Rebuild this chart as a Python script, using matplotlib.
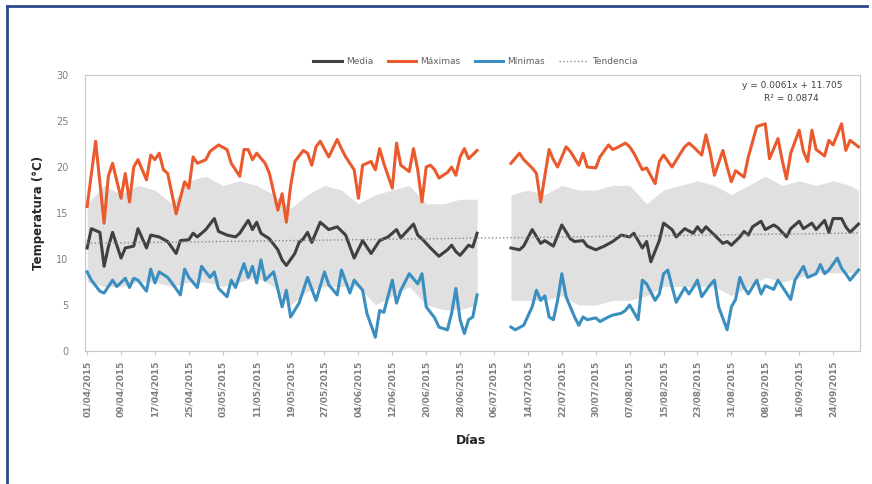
import datetime as dt
import matplotlib
matplotlib.use("Agg")
import matplotlib.pyplot as plt
import numpy as np

# dias contados desde 01/04/2015
inicio = dt.date(2015, 4, 1)
n_dias = 183

max_dias_1 = [0, 2, 4, 5, 6, 8, 9, 10, 11, 12, 14, 15, 16, 17, 18, 19, 21, 23, 24, 25, 26, 28, 29, 31, 33,
              34, 36, 37, 38, 39, 40, 42, 43, 45, 46, 47, 48, 49, 51, 52, 53, 54, 55, 57, 59, 60, 61, 63,
              64, 65, 67, 68, 69, 70, 72, 73, 74, 76, 77, 78, 79, 80, 81, 82, 83, 85, 86, 87, 88, 89, 90, 92]
max_vals_1 = [15.7, 22.8, 13.9, 19.0, 20.4, 16.6, 19.3, 16.2, 20.0, 20.8, 18.6, 21.3, 20.8, 21.5, 19.7, 19.3,
              14.9, 18.4, 17.7, 21.1, 20.4, 20.8, 21.7, 22.4, 21.9, 20.4, 19.0, 21.9, 21.9, 20.8, 21.5, 20.4,
              19.3, 15.3, 17.1, 14.0, 17.9, 20.6, 21.8, 21.5, 20.2, 22.2, 22.8, 21.1, 23.0, 22.0, 21.1, 19.7,
              16.6, 20.2, 20.6, 19.7, 22.0, 20.4, 17.7, 22.6, 20.2, 19.5, 22.0, 19.7, 16.2, 20.0, 20.2, 19.7,
              18.8, 19.4, 20.0, 19.1, 21.1, 22.0, 20.9, 21.8]
max_dias_2 = [100, 102, 103, 105, 106, 107, 109, 110, 111, 113, 114, 116, 117, 118, 120, 121, 123, 124, 125,
              127, 128, 129, 131, 132, 134, 135, 136, 138, 140, 141, 142, 143, 145, 146, 147, 148, 150, 151,
              152, 153, 155, 156, 158, 160, 161, 163, 164, 165, 166, 168, 169, 170, 171, 172, 174, 175, 176,
              178, 179, 180, 182]
max_vals_2 = [20.4, 21.5, 20.8, 19.9, 19.3, 16.2, 21.9, 20.8, 20.0, 22.2, 21.7, 20.2, 21.5, 20.0, 19.9, 21.1,
              22.4, 21.9, 22.1, 22.6, 22.2, 21.5, 19.7, 19.9, 18.2, 20.6, 21.3, 20.0, 21.5, 22.2, 22.6, 22.2,
              21.3, 23.5, 21.6, 19.1, 21.8, 20.0, 18.4, 19.6, 18.9, 21.1, 24.4, 24.7, 20.9, 23.1, 20.7, 18.7,
              21.5, 24.0, 21.7, 20.6, 24.0, 21.9, 21.2, 22.9, 22.4, 24.7, 21.8, 22.9, 22.2]

med_dias_1 = [0, 1, 3, 4, 5, 6, 8, 9, 11, 12, 14, 15, 17, 19, 21, 22, 24, 25, 26, 28, 30, 31, 33, 35, 36, 38,
              39, 40, 41, 43, 45, 46, 47, 49, 50, 51, 52, 53, 55, 57, 59, 61, 63, 65, 67, 69, 71, 73, 74, 77,
              78, 79, 81, 83, 85, 86, 87, 88, 90, 91, 92]
med_vals_1 = [11.2, 13.3, 12.9, 9.2, 11.3, 12.9, 10.1, 11.2, 11.4, 13.3, 11.2, 12.6, 12.4, 11.9, 10.6, 12.0,
              12.1, 12.8, 12.4, 13.2, 14.4, 13.0, 12.6, 12.4, 12.8, 14.2, 13.2, 14.0, 12.8, 12.2, 11.0, 9.9,
              9.3, 10.6, 11.8, 12.2, 12.9, 11.8, 14.0, 13.2, 13.5, 12.6, 10.1, 12.0, 10.6, 12.0, 12.4, 13.2,
              12.3, 13.8, 12.6, 12.2, 11.2, 10.3, 11.0, 11.5, 10.8, 10.4, 11.5, 11.3, 12.8]
med_dias_2 = [100, 102, 103, 105, 107, 108, 110, 112, 114, 115, 117, 118, 120, 122, 124, 126, 128, 129, 131,
              132, 133, 135, 136, 138, 139, 141, 143, 144, 145, 146, 148, 150, 151, 152, 154, 155, 156, 157,
              159, 160, 162, 163, 165, 166, 168, 169, 171, 172, 174, 175, 176, 178, 179, 180, 182]
med_vals_2 = [11.2, 11.0, 11.4, 13.2, 11.7, 12.0, 11.4, 13.7, 12.2, 11.9, 12.0, 11.4, 11.0, 11.4, 11.9, 12.6,
              12.4, 12.8, 11.2, 11.9, 9.7, 12.0, 13.9, 13.2, 12.4, 13.3, 12.8, 13.5, 12.9, 13.5, 12.6, 11.7,
              11.9, 11.5, 12.4, 13.0, 12.6, 13.5, 14.1, 13.2, 13.7, 13.4, 12.4, 13.3, 14.1, 13.3, 13.9, 13.2,
              14.2, 12.9, 14.4, 14.4, 13.5, 12.9, 13.8]

min_dias_1 = [0, 1, 3, 4, 6, 7, 9, 10, 11, 12, 14, 15, 16, 17, 19, 20, 22, 23, 24, 26, 27, 29, 30, 31, 33, 34,
              35, 37, 38, 39, 40, 41, 42, 44, 46, 47, 48, 50, 51, 52, 54, 56, 57, 59, 60, 62, 63, 65, 66, 68,
              69, 70, 72, 73, 74, 76, 78, 79, 80, 82, 83, 85, 86, 87, 88, 89, 90, 91, 92]
min_vals_1 = [8.6, 7.7, 6.5, 6.3, 7.7, 7.0, 7.9, 6.9, 7.9, 7.7, 6.5, 8.9, 7.4, 8.6, 8.0, 7.4, 6.1, 8.9, 8.0,
              6.9, 9.2, 8.0, 8.6, 6.8, 5.9, 7.7, 6.9, 9.5, 8.0, 9.2, 7.4, 9.9, 7.7, 8.6, 4.8, 6.6, 3.7, 5.2,
              6.6, 8.0, 5.5, 8.6, 7.2, 6.1, 8.8, 6.3, 7.7, 6.6, 4.1, 1.5, 4.4, 4.2, 7.7, 5.2, 6.6, 8.4, 7.3,
              8.4, 4.8, 3.6, 2.6, 2.3, 4.1, 6.8, 3.4, 1.9, 3.4, 3.7, 6.1]
min_dias_2 = [100, 101, 103, 105, 106, 107, 108, 109, 110, 111, 112, 113, 115, 116, 117, 118, 120, 121, 123,
              124, 126, 127, 128, 130, 131, 132, 134, 135, 136, 137, 138, 139, 141, 142, 143, 144, 145, 147,
              148, 149, 151, 152, 153, 154, 155, 156, 158, 159, 160, 162, 163, 164, 166, 167, 169, 170, 172,
              173, 174, 175, 177, 178, 179, 180, 182]
min_vals_2 = [2.6, 2.3, 2.8, 4.8, 6.6, 5.5, 6.0, 3.7, 3.4, 5.5, 8.4, 5.9, 3.7, 2.8, 3.7, 3.4, 3.6, 3.2, 3.7,
              3.9, 4.1, 4.4, 5.0, 3.4, 7.7, 7.3, 5.5, 6.2, 8.4, 8.8, 7.0, 5.3, 6.9, 6.2, 6.9, 7.7, 5.9, 7.2,
              7.7, 4.8, 2.3, 4.8, 5.6, 8.0, 6.9, 6.2, 7.7, 6.2, 7.1, 6.7, 7.7, 7.0, 5.6, 7.7, 9.2, 8.0, 8.4,
              9.4, 8.4, 8.8, 10.1, 9.0, 8.4, 7.7, 8.8]

# banda gris (rango de los registros horarios)
banda_dias_1 = [0, 4, 8, 12, 16, 20, 24, 28, 32, 36, 40, 44, 48, 52, 56, 60, 64, 68, 72, 76, 80, 84, 88, 92]
banda_inf_1 = [7.5, 7.0, 7.0, 7.5, 7.5, 7.0, 7.5, 7.5, 7.0, 7.5, 8.0, 7.0, 5.0, 6.5, 7.0, 7.0, 7.0, 5.0, 6.0,
               7.0, 5.0, 4.5, 4.5, 5.0]
banda_sup_1 = [16.0, 18.0, 17.0, 18.0, 17.5, 16.0, 18.5, 19.0, 18.0, 18.5, 18.0, 17.0, 15.5, 17.0, 18.0, 17.5,
               16.0, 17.0, 17.5, 18.0, 16.0, 16.0, 16.5, 16.5]
banda_dias_2 = [100, 104, 108, 112, 116, 120, 124, 128, 132, 136, 140, 144, 148, 152, 156, 160, 164, 168, 172,
                176, 180, 182]
banda_inf_2 = [5.5, 5.5, 5.5, 6.0, 5.0, 5.0, 5.5, 5.5, 6.0, 7.0, 7.0, 7.0, 7.0, 6.0, 7.0, 8.0, 7.5, 8.0, 8.5,
               8.5, 8.5, 8.5]
banda_sup_2 = [17.0, 17.5, 17.0, 18.0, 17.5, 17.5, 18.0, 18.0, 16.0, 17.5, 18.0, 18.5, 18.0, 17.0, 18.0, 19.0,
               18.0, 18.5, 18.0, 18.5, 18.0, 17.5]

pendiente = 0.0061
ordenada = 11.705
r2 = 0.0874

c_media = "#404040"
c_max = "#ea5a2c"
c_min = "#3a8fc0"

fig = plt.figure(figsize=(8.72, 4.84), dpi=100)
ax = fig.add_axes([0.0975, 0.2748, 0.8885, 0.5702])

for d, lo, hi in [(banda_dias_1, banda_inf_1, banda_sup_1), (banda_dias_2, banda_inf_2, banda_sup_2)]:
    ax.fill_between(d, lo, hi, color="#e0e0e0", lw=0, zorder=1)

xt = np.array([0, n_dias - 1])
ax.plot(xt, pendiente * (xt + 1) + ordenada, ls=":", color="#8a8a8a", lw=1.0, zorder=5, label="Tendencia")

ax.plot(med_dias_1, med_vals_1, color=c_media, lw=2.2, zorder=3, label="Media", solid_joinstyle="round")
ax.plot(med_dias_2, med_vals_2, color=c_media, lw=2.2, zorder=3, solid_joinstyle="round")
ax.plot(max_dias_1, max_vals_1, color=c_max, lw=2.2, zorder=3, label="Máximas", solid_joinstyle="round")
ax.plot(max_dias_2, max_vals_2, color=c_max, lw=2.2, zorder=3, solid_joinstyle="round")
ax.plot(min_dias_1, min_vals_1, color=c_min, lw=2.2, zorder=3, label="Mínimas", solid_joinstyle="round")
ax.plot(min_dias_2, min_vals_2, color=c_min, lw=2.2, zorder=3, solid_joinstyle="round")

ax.set_xlim(-0.5, 182.3)
ax.set_ylim(0, 30)
ax.set_yticks(range(0, 31, 5))
ticks = list(range(0, n_dias, 8))
ax.set_xticks(ticks)
ax.set_xticklabels([(inicio + dt.timedelta(days=t)).strftime("%d/%m/%Y") for t in ticks],
                   rotation=90, fontsize=6.5, color="#7f7f7f", fontweight="bold")
ax.tick_params(axis="y", length=0, labelsize=7, labelcolor="#7f7f7f", pad=12)
ax.tick_params(axis="x", length=3, color="#c8c8c8", pad=4)
for s in ax.spines.values():
    s.set_color("#c8c8c8")
    s.set_linewidth(0.8)

ax.set_ylabel("Temperatura (°C)", fontsize=8.5, fontweight="bold", color="#262626", labelpad=8)
fig.text(0.54, 0.082, "Días", fontsize=9, fontweight="bold", color="#262626", ha="center")

h, l = ax.get_legend_handles_labels()
orden = [1, 2, 3, 0]
fig.legend([h[i] for i in orden], [l[i] for i in orden], loc="center", bbox_to_anchor=(0.545, 0.872),
           ncol=4, frameon=False, fontsize=6.5, labelcolor="#606060", handlelength=3.2, columnspacing=1.6,
           handletextpad=0.4)

fig.text(0.908, 0.824, "y = %.4fx + %.3f" % (pendiente, ordenada), fontsize=6.5, color="#404040", ha="center",
         va="center")
fig.text(0.908, 0.797, "R² = %.4f" % r2, fontsize=6.5, color="#404040", ha="center", va="center")

# marco exterior
fig.add_artist(plt.Line2D([0.008, 0.008], [0.0, 0.988], color="#2b4c8c", lw=2, transform=fig.transFigure))
fig.add_artist(plt.Line2D([0.008, 0.994], [0.988, 0.988], color="#2b4c8c", lw=2, transform=fig.transFigure))

fig.savefig("out.png", dpi=100)
plt.close(fig)
